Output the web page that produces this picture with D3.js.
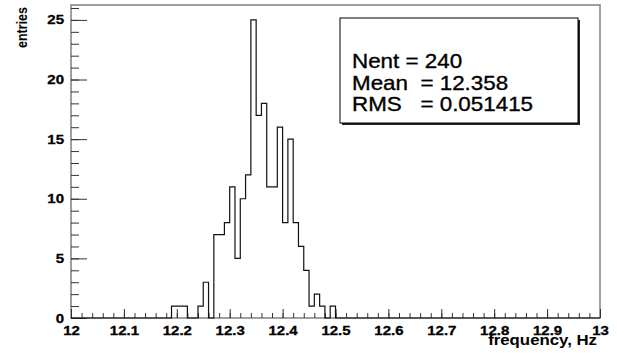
<!DOCTYPE html>
<html>
<head>
<meta charset="utf-8">
<script src="https://cdn.jsdelivr.net/npm/d3@7"></script>
<style>
  body { margin: 0; background: #fff; }
  svg { display: block; }
  text { font-family: "Liberation Sans", Arial, Helvetica, sans-serif; }
</style>
</head>
<body>
<svg id="chart" width="617" height="355"></svg>
<script>
// histogram bins (low edge, width 0.01) and their entries
const binStart = [12.19, 12.20, 12.21, 12.22, 12.23, 12.24, 12.25, 12.26, 12.27, 12.28,
                  12.29, 12.30, 12.31, 12.32, 12.33, 12.34, 12.35, 12.36, 12.37, 12.38,
                  12.39, 12.40, 12.41, 12.42, 12.43, 12.44, 12.45, 12.46, 12.47, 12.48, 12.49];
const counts   = [1, 1, 1, 0, 0, 1, 3, 0, 7, 7,
                  8, 11, 5, 10, 12, 25, 17, 18, 11, 11,
                  16, 8, 15, 8, 6, 4, 1, 2, 1, 0, 1];
const binWidth = 0.01;

const xMajor = [12, 12.1, 12.2, 12.3, 12.4, 12.5, 12.6, 12.7, 12.8, 12.9, 13];
const xLabels = ["12", "12.1", "12.2", "12.3", "12.4", "12.5", "12.6", "12.7", "12.8", "12.9", "13"];
const yMajor = [0, 5, 10, 15, 20, 25];
const yLabels = ["0", "5", "10", "15", "20", "25"];

const statLines = ["Nent = 240", "Mean  = 12.358", "RMS   = 0.051415"];

const frameL = 71, frameR = 600, frameT = 5, frameB = 318;
const sx = 1.2; // the picture is stretched sideways

const svg = d3.select("#chart");

var x = d3.scaleLinear().domain([12, 13]).range([frameL, frameR]);
var y = d3.scaleLinear().domain([0, 26.25]).range([frameB, frameT]);

// frame
svg.append("rect")
    .attr("x", frameL).attr("y", frameT)
    .attr("width", frameR - frameL).attr("height", frameB - frameT)
    .attr("fill", "none")
    .attr("stroke", "#808080")
    .attr("stroke-width", 1.5);

// x axis, ticks pointing up into the frame
var xMinor = d3.range(0, 51).map(function (i) { return 12 + i * 0.02; });
svg.append("g")
    .attr("transform", "translate(0," + frameB + ")")
    .call(d3.axisBottom(x).tickValues(xMinor).tickSize(-5).tickFormat(""))
    .call(g => g.select(".domain").remove())
    .selectAll("line").attr("stroke", "#333");

var gx = svg.append("g")
    .attr("transform", "translate(0," + frameB + ")")
    .call(d3.axisBottom(x).tickValues(xMajor).tickSize(-9)
        .tickFormat(function (d, i) { return xLabels[i]; }))
    .call(g => g.select(".domain").remove());
gx.selectAll("line").attr("stroke", "#333");
gx.selectAll("text")
    .attr("y", 17).attr("dy", null)
    .attr("transform", "scale(" + sx + ",1)")
    .attr("font-size", "12.5px")
    .attr("font-weight", "bold")
    .attr("fill", "#000")
    .attr("stroke", "#000")
    .attr("stroke-width", 0.3)
    .style("font-family", "'Liberation Sans', Arial, sans-serif");

// y axis, ticks pointing right
var yMinor = d3.range(0, 27);
svg.append("g")
    .attr("transform", "translate(" + frameL + ",0)")
    .call(d3.axisLeft(y).tickValues(yMinor).tickSize(-8).tickFormat(""))
    .call(g => g.select(".domain").remove())
    .selectAll("line").attr("stroke", "#333");

var gy = svg.append("g")
    .attr("transform", "translate(" + frameL + ",0)")
    .call(d3.axisLeft(y).tickValues(yMajor).tickSize(-16)
        .tickFormat(function (d, i) { return yLabels[i]; }))
    .call(g => g.select(".domain").remove());
gy.selectAll("line").attr("stroke", "#333");
gy.selectAll("text")
    .attr("x", -7 / sx)
    .attr("transform", "scale(" + sx + ",1)")
    .attr("font-size", "12.5px")
    .attr("font-weight", "bold")
    .attr("fill", "#000")
    .attr("stroke", "#000")
    .attr("stroke-width", 0.3)
    .style("font-family", "'Liberation Sans', Arial, sans-serif");

// histogram outline
var pts = [[12, 0]];
binStart.forEach(function (b, i) { pts.push([b, counts[i]]); });
pts.push([binStart[binStart.length - 1] + binWidth, 0]);
pts.push([13, 0]);

var line = d3.line()
    .x(function (d) { return x(d[0]); })
    .y(function (d) { return y(d[1]); })
    .curve(d3.curveStepAfter);

svg.append("path")
    .datum(pts)
    .attr("d", line)
    .attr("fill", "none")
    .attr("stroke", "#111")
    .attr("stroke-width", 1.2);

// axis titles
svg.append("text")
    .attr("transform", "translate(27,7) rotate(-90) scale(1," + sx + ")")
    .attr("text-anchor", "end")
    .attr("font-size", "12.5px")
    .attr("font-weight", "bold")
    .text("entries");

svg.append("text")
    .attr("transform", "translate(597,345) scale(" + sx + ",1)")
    .attr("text-anchor", "end")
    .attr("font-size", "14px")
    .attr("font-weight", "bold")
    .text("frequency, Hz");

// stats box
var bx = 340, by = 18, bw = 238, bh = 105;
svg.append("rect")
    .attr("x", bx + 2).attr("y", by + 2)
    .attr("width", bw).attr("height", bh)
    .attr("fill", "#222");
svg.append("rect")
    .attr("x", bx).attr("y", by)
    .attr("width", bw).attr("height", bh)
    .attr("fill", "#fff")
    .attr("stroke", "#000")
    .attr("stroke-width", 1);

var baseY = [68, 90, 111];
statLines.forEach(function (s, i) {
    svg.append("text")
        .attr("transform", "translate(352," + baseY[i] + ") scale(1.12,1)")
        .attr("font-size", "20px")
        .attr("fill", "#000")
        .attr("stroke", "#000")
        .attr("stroke-width", 0.35)
        .style("white-space", "pre")
        .attr("xml:space", "preserve")
        .text(s);
});
</script>
</body>
</html>
